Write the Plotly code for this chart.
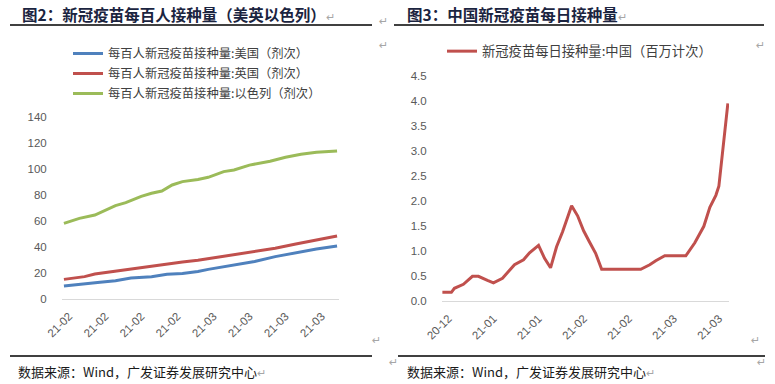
import plotly.graph_objects as go
import pandas as pd

# ---------------- Left panel data (per 100 people, doses) ----------------
isr_dates = ["2021-01-31", "2021-02-03", "2021-02-06", "2021-02-08", "2021-02-10", "2021-02-12",
             "2021-02-15", "2021-02-17", "2021-02-19", "2021-02-21", "2021-02-23", "2021-02-26",
             "2021-02-28", "2021-03-03", "2021-03-05", "2021-03-08", "2021-03-12", "2021-03-15",
             "2021-03-18", "2021-03-21", "2021-03-25"]
isr_vals = [58.2, 62.0, 64.6, 67.9, 71.8, 74.1, 79.0, 81.3, 83.1, 87.7, 90.3, 92.0,
            93.6, 98.0, 99.2, 103.0, 106.0, 109.0, 111.3, 112.8, 113.8]

uk_dates = ["2021-01-31", "2021-02-04", "2021-02-06", "2021-02-10", "2021-02-13", "2021-02-17",
            "2021-02-20", "2021-02-23", "2021-02-26", "2021-02-28", "2021-03-05", "2021-03-09",
            "2021-03-13", "2021-03-17", "2021-03-21", "2021-03-25"]
uk_vals = [15.1, 17.2, 19.2, 21.5, 23.3, 25.6, 26.9, 28.5, 29.8, 31.0, 34.3, 36.2,
           39.0, 42.3, 45.4, 48.5]

us_dates = ["2021-01-31", "2021-02-04", "2021-02-07", "2021-02-10", "2021-02-13", "2021-02-17",
            "2021-02-20", "2021-02-23", "2021-02-26", "2021-02-28", "2021-03-05", "2021-03-09",
            "2021-03-13", "2021-03-17", "2021-03-21", "2021-03-25"]
us_vals = [10.0, 11.3, 12.8, 14.1, 16.2, 17.2, 19.0, 19.7, 21.2, 22.8, 26.2, 28.8,
           32.6, 35.6, 38.5, 40.8]

left_tickvals = ["2021-02-01", "2021-02-08", "2021-02-15", "2021-02-22",
                 "2021-03-01", "2021-03-08", "2021-03-15", "2021-03-22"]
left_ticktext = ["21-02", "21-02", "21-02", "21-02", "21-03", "21-03", "21-03", "21-03"]
left_yticks = [0, 20, 40, 60, 80, 100, 120, 140]

# ---------------- Right panel data (China daily doses, millions) ----------------
cn_dates = ["2020-12-25", "2020-12-28", "2020-12-29", "2021-01-01", "2021-01-04", "2021-01-06",
            "2021-01-09", "2021-01-11", "2021-01-14", "2021-01-16", "2021-01-18", "2021-01-21",
            "2021-01-23", "2021-01-26", "2021-01-28", "2021-01-30", "2021-02-01", "2021-02-03",
            "2021-02-06", "2021-02-08", "2021-02-10", "2021-02-12", "2021-02-14", "2021-02-16",
            "2021-03-01", "2021-03-04", "2021-03-06", "2021-03-09", "2021-03-16", "2021-03-19",
            "2021-03-22", "2021-03-24", "2021-03-26", "2021-03-27", "2021-03-28", "2021-03-29",
            "2021-03-30"]
cn_vals = [0.18, 0.18, 0.26, 0.34, 0.50, 0.50,
           0.42, 0.37, 0.46, 0.59, 0.73, 0.83,
           0.97, 1.12, 0.86, 0.67, 1.09, 1.39,
           1.91, 1.71, 1.41, 1.18, 0.96, 0.64,
           0.64, 0.73, 0.81, 0.91, 0.91, 1.17,
           1.50, 1.88, 2.12, 2.30, 2.90, 3.45,
           3.96]

right_tickvals = ["2020-12-27", "2021-01-11", "2021-01-26", "2021-02-10",
                  "2021-02-25", "2021-03-12", "2021-03-27"]
right_ticktext = ["20-12", "21-01", "21-01", "21-02", "21-02", "21-03", "21-03"]
right_yticks = [0.0, 0.5, 1.0, 1.5, 2.0, 2.5, 3.0, 3.5, 4.0, 4.5]

# ---------------- Figure ----------------
W, H = 775, 384
CJK = "Noto Sans CJK SC"
NUM = "Liberation Sans, Arial"
BLUE, RED, GREEN = "#4F81BD", "#C0504D", "#9BBB59"

fig = go.Figure()
fig.add_trace(go.Scatter(x=us_dates, y=us_vals, mode="lines", name="每百人新冠疫苗接种量:美国（剂次）",
                         line=dict(color=BLUE, width=3), xaxis="x", yaxis="y",
                         legend="legend", legendgroup="a"))
fig.add_trace(go.Scatter(x=uk_dates, y=uk_vals, mode="lines", name="每百人新冠疫苗接种量:英国（剂次）",
                         line=dict(color=RED, width=3), xaxis="x", yaxis="y",
                         legend="legend", legendgroup="b"))
fig.add_trace(go.Scatter(x=isr_dates, y=isr_vals, mode="lines", name="每百人新冠疫苗接种量:以色列（剂次）",
                         line=dict(color=GREEN, width=3), xaxis="x", yaxis="y",
                         legend="legend", legendgroup="c"))
fig.add_trace(go.Scatter(x=cn_dates, y=cn_vals, mode="lines", name="新冠疫苗每日接种量:中国（百万计次）",
                         line=dict(color=RED, width=3), xaxis="x2", yaxis="y2",
                         legend="legend2"))


def px2x(p):
    return p / W


def px2y(p):
    return 1 - p / H


l_start = pd.Timestamp(us_dates[0])
l_end = pd.Timestamp(us_dates[-1])
l_range = [l_start - pd.Timedelta(hours=9), l_end + pd.Timedelta(hours=9)]
r_start = pd.Timestamp(cn_dates[0])
r_end = pd.Timestamp(cn_dates[-1])
r_range = [r_start - pd.Timedelta(hours=3), r_end + pd.Timedelta(hours=9)]

tickfont = dict(family=NUM, size=11.5, color="#595959")
common_x = dict(type="date", tickangle=-45, tickfont=tickfont, showgrid=False, zeroline=False,
                showline=False, ticks="outside", ticklen=5, tickcolor="rgba(0,0,0,0)",
                automargin=False)
common_y = dict(tickfont=tickfont, showgrid=False, zeroline=True, zerolinecolor="#D9D9D9",
                zerolinewidth=1, showline=False, ticks="outside", ticklen=12,
                tickcolor="rgba(0,0,0,0)", automargin=False)

fig.update_layout(
    width=W, height=H,
    margin=dict(l=0, r=0, t=0, b=0, autoexpand=False),
    paper_bgcolor="white", plot_bgcolor="white",
    showlegend=True,
    xaxis=dict(domain=[px2x(62), px2x(339)], range=l_range,
               tickvals=left_tickvals, ticktext=left_ticktext, anchor="y", **common_x),
    yaxis=dict(domain=[px2y(299), px2y(117)], range=[0, 140], tickvals=left_yticks,
               anchor="x", **common_y),
    xaxis2=dict(domain=[px2x(442), px2x(729)], range=r_range,
                tickvals=right_tickvals, ticktext=right_ticktext, anchor="y2", **common_x),
    yaxis2=dict(domain=[px2y(301.3), px2y(76.3)], range=[0, 4.5], tickvals=right_yticks,
                tickformat=".1f", anchor="x2", **common_y),
    legend=dict(x=px2x(68), y=px2y(39), xanchor="left", yanchor="top",
                font=dict(family=CJK, size=12.3, color="#404040"),
                bgcolor="rgba(0,0,0,0)", borderwidth=0, tracegroupgap=1,
                itemwidth=30),
    legend2=dict(x=px2x(442), y=px2y(36), xanchor="left", yanchor="top",
                 font=dict(family=CJK, size=13.3, color="#404040"),
                 bgcolor="rgba(0,0,0,0)", borderwidth=0, itemwidth=30),
)

# Decorative rules (title underline and source line)
for x0, x1 in [(10, 372), (394, 764)]:
    fig.add_shape(type="line", xref="paper", yref="paper", x0=px2x(x0), x1=px2x(x1),
                  y0=px2y(25), y1=px2y(25), line=dict(color="black", width=1.5))
for x0, x1 in [(10, 372), (398, 765)]:
    fig.add_shape(type="line", xref="paper", yref="paper", x0=px2x(x0), x1=px2x(x1),
                  y0=px2y(356), y1=px2y(356), line=dict(color="black", width=1.5))

MARK = "#A6A6A6"
titles = [
    (20, 14, "图2：新冠疫苗每百人接种量（美英以色列）"),
    (405, 14, "图3：中国新冠疫苗每日接种量"),
]
for x, y, t in titles:
    fig.add_annotation(xref="paper", yref="paper", x=px2x(x), y=px2y(y), xanchor="left",
                       yanchor="middle", showarrow=False,
                       text=f"<b>{t}</b><span style='color:{MARK};font-size:11px'>↵</span>",
                       font=dict(family=CJK, size=15.5, color="#1B2440"))

sources = [(16, 371), (405, 371)]
for x, y in sources:
    fig.add_annotation(xref="paper", yref="paper", x=px2x(x), y=px2y(y), xanchor="left",
                       yanchor="middle", showarrow=False,
                       text=f"数据来源：Wind，广发证券发展研究中心<span style='color:{MARK};font-size:11px'>↵</span>",
                       font=dict(family=CJK, size=13, color="#1a1a1a"))

for x, y in [(383, 13), (383, 37), (767, 37), (376, 349), (762, 349), (393, 371), (768, 371)]:
    fig.add_annotation(xref="paper", yref="paper", x=px2x(x), y=px2y(y), showarrow=False,
                       text="↵", font=dict(family="DejaVu Sans", size=11, color=MARK))

fig.write_html("out.html", config={"displayModeBar": False},
               post_script="document.body.style.margin='0';document.body.style.overflow='hidden';")
